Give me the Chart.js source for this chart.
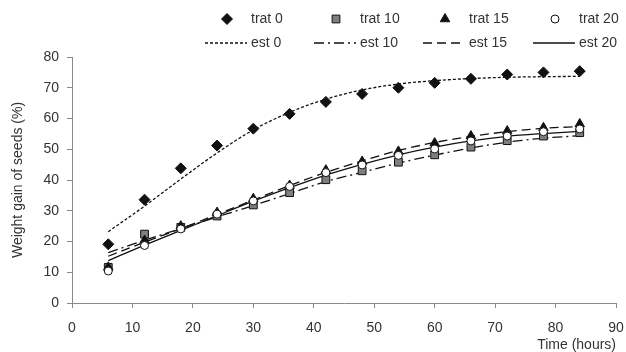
<!DOCTYPE html>
<html>
<head>
<meta charset="utf-8">
<script src="https://cdn.jsdelivr.net/npm/chart.js@4.4.0/dist/chart.umd.min.js"></script>
<style>
  html, body { margin: 0; padding: 0; background: #fff; }
  #wrap { width: 626px; height: 352px; position: relative; }
</style>
</head>
<body>
<div id="wrap"><canvas id="chart"></canvas></div>
<script>
// hours at which seeds were weighed
const hours = [6, 12, 18, 24, 30, 36, 42, 48, 54, 60, 66, 72, 78, 84];

// observed weight gain (%)
const trat0  = [19.1, 33.6, 43.8, 51.2, 56.7, 61.5, 65.4, 68.0, 70.0, 71.6, 72.9, 74.3, 75.0, 75.4];
const trat10 = [11.6, 22.4, 24.6, 28.3, 31.9, 35.9, 40.1, 43.0, 45.8, 48.2, 50.7, 52.8, 54.3, 55.4];
const trat15 = [11.6, 20.3, 25.0, 29.4, 33.9, 38.2, 43.2, 46.0, 49.3, 52.0, 54.3, 55.9, 57.0, 58.2];
const trat20 = [10.4, 18.7, 24.1, 28.9, 33.2, 37.9, 42.4, 44.9, 48.0, 50.1, 52.7, 54.3, 55.7, 56.6];

// fitted curves
const est0  = [23.2, 31.5, 40.3, 48.8, 56.3, 62.0, 66.3, 69.3, 71.2, 72.3, 73.0, 73.4, 73.6, 73.7];
const est10 = [16.4, 20.4, 24.2, 28.0, 31.7, 35.6, 39.5, 42.5, 45.5, 48.1, 50.4, 52.3, 53.6, 54.4];
const est15 = [15.2, 19.8, 24.2, 28.8, 33.5, 38.2, 42.5, 46.2, 49.6, 52.2, 54.2, 55.7, 56.8, 57.4];
const est20 = [13.8, 18.8, 23.6, 28.4, 33.1, 37.5, 41.6, 45.1, 48.2, 50.7, 52.7, 54.2, 55.1, 55.8];

const xTicks = [0, 10, 20, 30, 40, 50, 60, 70, 80, 90];
const yTicks = [0, 10, 20, 30, 40, 50, 60, 70, 80];

const FONT = 'Arial, "Liberation Sans", sans-serif';
const TEXT = '#333333';
const AXIS = '#8a8a8a';

function pts(values) {
    return values.map((v, i) => ({ x: hours[i], y: v }));
}

function markerSet(label, values, style, fill, radius, order) {
    return {
        label: label,
        data: pts(values),
        showLine: false,
        pointStyle: style,
        pointRadius: radius,
        pointHoverRadius: radius,
        pointBackgroundColor: fill,
        pointBorderColor: '#111',
        pointBorderWidth: 1,
        order: order,
        legendKind: 'marker'
    };
}

function curveSet(label, values, dash, order) {
    return {
        label: label,
        data: pts(values),
        showLine: true,
        pointRadius: 0,
        pointHoverRadius: 0,
        borderColor: '#111',
        borderWidth: 1.3,
        borderDash: dash,
        cubicInterpolationMode: 'monotone',
        fill: false,
        order: order,
        legendKind: 'line'
    };
}

// two-row legend: markers on top, fitted lines below
const gridLegend = {
    id: 'gridLegend',
    afterDraw(chart) {
        const ctx = chart.ctx;
        const textX = [251, 360, 469, 579];
        const rows = [19, 43];
        ctx.save();
        ctx.font = '14px ' + FONT;
        ctx.textBaseline = 'middle';
        chart.data.datasets.forEach(ds => {
            const tx = textX[ds.legendCol];
            if (ds.legendKind === 'marker') {
                const y = rows[0];
                ctx.fillStyle = ds.pointBackgroundColor;
                ctx.strokeStyle = '#111';
                ctx.lineWidth = 1;
                Chart.helpers.drawPoint(ctx, {
                    pointStyle: ds.pointStyle,
                    radius: ds.pointRadius,
                    borderWidth: 1
                }, tx - 24, y);
                ctx.fillStyle = TEXT;
                ctx.fillText(ds.label, tx, y);
            } else {
                const y = rows[1];
                ctx.strokeStyle = '#111';
                ctx.lineWidth = 1.3;
                ctx.setLineDash(ds.borderDash);
                ctx.beginPath();
                ctx.moveTo(tx - 46, y);
                ctx.lineTo(tx - 4, y);
                ctx.stroke();
                ctx.setLineDash([]);
                ctx.fillStyle = TEXT;
                ctx.fillText(ds.label, tx, y);
            }
        });
        ctx.restore();
    }
};

const datasets = [
    markerSet('trat 0', trat0, 'rectRot', '#111', 5.5, 3),
    markerSet('trat 10', trat10, 'rect', '#7f7f7f', 5.5, 2),
    markerSet('trat 15', trat15, 'triangle', '#111', 5.5, 1),
    markerSet('trat 20', trat20, 'circle', '#ffffff', 4, 0),
    curveSet('est 0', est0, [3, 2], 4),
    curveSet('est 10', est10, [10, 4, 2, 4], 5),
    curveSet('est 15', est15, [9, 5], 6),
    curveSet('est 20', est20, [], 7)
];
[0, 1, 2, 3, 0, 1, 2, 3].forEach((c, i) => { datasets[i].legendCol = c; });

new Chart(document.getElementById('chart'), {
    type: 'scatter',
    data: { datasets: datasets },
    options: {
        responsive: true,
        maintainAspectRatio: false,
        animation: false,
        layout: { padding: { top: 57, right: 10, left: 0, bottom: 0 } },
        plugins: {
            legend: { display: false },
            tooltip: { enabled: false }
        },
        scales: {
            x: {
                type: 'linear',
                min: 0,
                max: 90,
                afterBuildTicks: axis => { axis.ticks = xTicks.map(v => ({ value: v })); },
                afterFit: axis => {
                    axis.height = 49;
                    axis.paddingLeft = 0;
                    axis.paddingRight = 0;
                },
                ticks: { color: TEXT, font: { family: FONT, size: 14 }, padding: 12 },
                grid: { display: true, drawOnChartArea: false, drawTicks: true, tickLength: 5, color: AXIS },
                border: { color: AXIS },
                title: {
                    display: true,
                    text: 'Time (hours)',
                    align: 'end',
                    color: TEXT,
                    font: { family: FONT, size: 14, lineHeight: 1 },
                    padding: { top: 0, bottom: 0 }
                }
            },
            y: {
                type: 'linear',
                min: 0,
                max: 80,
                afterBuildTicks: axis => { axis.ticks = yTicks.map(v => ({ value: v })); },
                afterFit: axis => {
                    axis.width = 72;
                    axis.paddingTop = 0;
                    axis.paddingBottom = 0;
                },
                ticks: { color: TEXT, font: { family: FONT, size: 14 }, padding: 8 },
                grid: { display: true, drawOnChartArea: false, drawTicks: true, tickLength: 5, color: AXIS },
                border: { color: AXIS },
                title: {
                    display: true,
                    text: 'Weight gain of seeds (%)',
                    color: TEXT,
                    font: { family: FONT, size: 14 },
                    padding: { top: 10, bottom: 0 }
                }
            }
        }
    },
    plugins: [gridLegend]
});
</script>
</body>
</html>
